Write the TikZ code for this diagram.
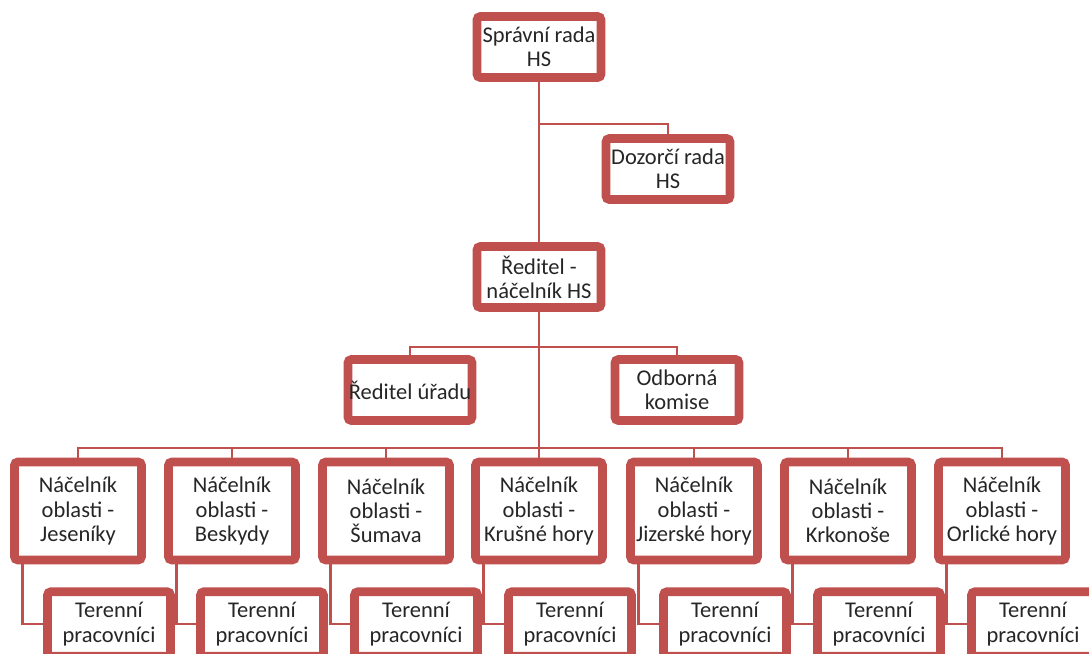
\documentclass[tikz,border=0pt]{standalone}
\usepackage{fontspec}
\setmainfont{Carlito}
\usetikzlibrary{calc}
\definecolor{boxred}{HTML}{C0504D}
\tikzset{
  unit/.style={draw=boxred, line width=5pt, rounded corners=2pt, fill=white,
    align=center, text=black!85, inner sep=0.5pt,
    font=\fontsize{12.8}{13.8}\selectfont},
  topunit/.style={unit, minimum width=2.48cm, minimum height=1.22cm},
  area/.style={unit, minimum width=2.54cm, minimum height=1.96cm},
  field/.style={unit, minimum width=2.46cm, minimum height=1.29cm},
  link/.style={draw=boxred, line width=1.6pt},
}
\begin{document}
\begin{tikzpicture}[x=0.02cm, y=-0.02cm]
			%%%%% START %%%%%
			\useasboundingbox (0, 0) rectangle (1089, 653);
			\clip (0, 0) rectangle (1089, 653);
			
			\node[topunit] (spravni) at (539, 47) {Správní rada\\HS};
			\node[topunit] (dozorci) at (668, 169) {Dozorčí rada\\HS};
			\node[topunit] (reditel) at (539, 277) {Ředitel  -\\náčelník  HS};
			\node[topunit] (urad) at (410, 390) {Ředitel  úřadu};
			\node[topunit] (komise) at (677, 390) {Odborná\\komise};
			
			\coordinate (split1) at (539, 124);
			\coordinate (split2) at (539, 347);
			\coordinate (bus) at (539, 448);
			
			\node[area] (jesen) at (78, 511) {Náčelník\\oblasti -\\Jeseníky};
			\node[area] (besk) at (232, 511) {Náčelník\\oblasti -\\Beskydy};
			\node[area] (sumava) at (386, 511) {Náčelník\\oblasti -\\Šumava};
			\node[area] (krusne) at (539, 511) {Náčelník\\oblasti -\\Krušné hory};
			\node[area] (jizer) at (694, 511) {Náčelník\\oblasti -\\Jizerské hory};
			\node[area] (krkon) at (848, 511) {Náčelník\\oblasti -\\Krkonoše};
			\node[area] (orlic) at (1002, 511) {Náčelník\\oblasti -\\Orlické hory};
			
			\node[field] (tjesen) at (109, 624) {Terenní\\pracovníci};
			\node[field] (tbesk) at (262, 624) {Terenní\\pracovníci};
			\node[field] (tsumava) at (416, 624) {Terenní\\pracovníci};
			\node[field] (tkrusne) at (570, 624) {Terenní\\pracovníci};
			\node[field] (tjizer) at (725, 624) {Terenní\\pracovníci};
			\node[field] (tkrkon) at (879, 624) {Terenní\\pracovníci};
			\node[field] (torlic) at (1033, 624) {Terenní\\pracovníci};
			
			\draw[link] (spravni) -- (reditel);
			\draw[link] (split1) -| (dozorci.north);
			\draw[link] (reditel) -- (bus);
			\draw[link] (urad.north) |- (split2) -| (komise.north);
			
			\draw[link] (jesen.north) |- (bus) -| (orlic.north);
			\draw[link] (besk.north) -- (besk.north |- bus);
			\draw[link] (sumava.north) -- (sumava.north |- bus);
			\draw[link] (krusne.north) -- (bus);
			\draw[link] (jizer.north) -- (jizer.north |- bus);
			\draw[link] (krkon.north) -- (krkon.north |- bus);
			
			\draw[link] ($(jesen.south west)+(12, 0)$) |- (tjesen.west);
			\draw[link] ($(besk.south west)+(12, 0)$) |- (tbesk.west);
			\draw[link] ($(sumava.south west)+(12, 0)$) |- (tsumava.west);
			\draw[link] ($(krusne.south west)+(12, 0)$) |- (tkrusne.west);
			\draw[link] ($(jizer.south west)+(12, 0)$) |- (tjizer.west);
			\draw[link] ($(krkon.south west)+(12, 0)$) |- (tkrkon.west);
			\draw[link] ($(orlic.south west)+(12, 0)$) |- (torlic.west);
			%%%%% END %%%%%
\end{tikzpicture}
\end{document}
